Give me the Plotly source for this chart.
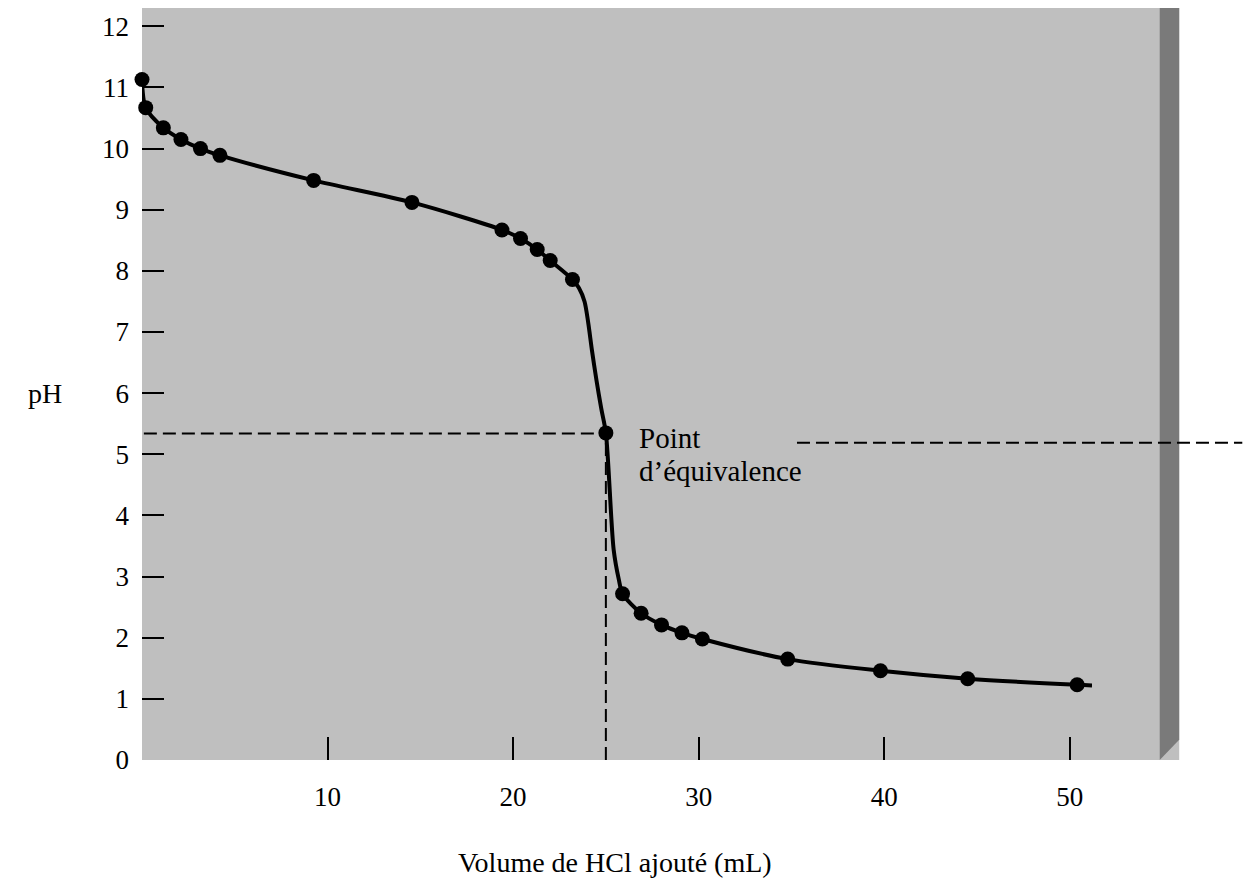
import plotly.graph_objects as go

# ---- data ----
volume = [0.0, 0.2, 1.15, 2.1, 3.15, 4.2, 9.25, 14.55, 19.4, 20.4, 21.3, 22.0, 23.2,
          25.0, 25.9, 26.9, 28.0, 29.1, 30.2, 34.8, 39.8, 44.5, 50.4]
ph = [11.13, 10.67, 10.34, 10.15, 10.0, 9.89, 9.48, 9.12, 8.67, 8.53, 8.35, 8.17, 7.86,
      5.35, 2.72, 2.40, 2.21, 2.08, 1.98, 1.65, 1.46, 1.33, 1.23]

# smooth curve drawn through the points (extra vertices read along the steep part)
curve_x = [0.0, 0.2, 1.15, 2.1, 3.15, 4.2, 9.25, 14.55, 19.4, 20.4, 21.3, 22.0, 23.2,
           23.55, 23.85, 24.05, 24.25, 24.5, 24.75, 25.0, 25.42, 25.7, 25.9, 26.9, 28.0,
           29.1, 30.2, 34.8, 39.8, 44.5, 50.4, 51.2]
curve_ph = [11.13, 10.67, 10.34, 10.15, 10.0, 9.89, 9.48, 9.12, 8.67, 8.53, 8.35, 8.17, 7.86,
            7.72, 7.5, 7.15, 6.7, 6.2, 5.75, 5.35, 3.44, 2.95, 2.72, 2.40, 2.21,
            2.08, 1.98, 1.65, 1.46, 1.33, 1.23, 1.22]

x_ticks = [10, 20, 30, 40, 50]
y_ticks = list(range(0, 13))

equiv_volume = 25.0
equiv_ph_left = 5.34
equiv_ph_right = 5.19

x_range = [0, 59.5]
y_range = [0, 12.3]

FONT = "Liberation Serif, Times New Roman, serif"

W, H = 1253, 881
ML, MR, MT, MB = 142, 7, 8, 121
PW, PH = W - ML - MR, H - MT - MB

def paper(xp, yp):
    return (xp - ML) / PW, 1 - (yp - MT) / PH

fig = go.Figure()

fig.add_trace(go.Scatter(x=curve_x, y=curve_ph, mode="lines",
                         line=dict(color="black", width=4, shape="spline", smoothing=0.8),
                         hoverinfo="skip", cliponaxis=False, showlegend=False))
fig.add_trace(go.Scatter(x=volume, y=ph, mode="markers",
                         marker=dict(color="black", size=15),
                         cliponaxis=False, showlegend=False))

# grey panel
fig.add_shape(type="rect", xref="x", yref="y", x0=0, x1=55.9, y0=0, y1=12.3,
              fillcolor="#bfbfbf", line=dict(width=0), layer="below")
# dark right edge with bevel
fig.add_shape(type="path", xref="x", yref="y",
              path="M 54.85,12.3 L 55.9,12.3 L 55.9,0.33 L 54.85,0 Z",
              fillcolor="#7a7a7a", line=dict(width=0), layer="below")

dash = "13px,6px"
fig.add_shape(type="line", xref="x", yref="y", x0=0.1, x1=equiv_volume,
              y0=equiv_ph_left, y1=equiv_ph_left, line=dict(color="black", width=2, dash=dash))
fig.add_shape(type="line", xref="x", yref="y", x0=35.3, x1=59.3,
              y0=equiv_ph_right, y1=equiv_ph_right, line=dict(color="black", width=2, dash=dash))
fig.add_shape(type="line", xref="x", yref="y", x0=equiv_volume, x1=equiv_volume,
              y0=0, y1=equiv_ph_left, line=dict(color="black", width=2, dash=dash))

ax, ay = paper(637, 438)
fig.add_annotation(text="Point", xref="paper", yref="paper", x=ax, y=ay,
                   xanchor="left", yanchor="middle", showarrow=False,
                   font=dict(family=FONT, size=29, color="black"))
ax, ay = paper(637, 471)
fig.add_annotation(text="d’équivalence", xref="paper", yref="paper", x=ax, y=ay,
                   xanchor="left", yanchor="middle", showarrow=False,
                   font=dict(family=FONT, size=29, color="black"))
ax, ay = paper(45, 393)
fig.add_annotation(text="pH", xref="paper", yref="paper", x=ax, y=ay,
                   xanchor="center", yanchor="middle", showarrow=False,
                   font=dict(family=FONT, size=28, color="black"))
ax, ay = paper(615, 862)
fig.add_annotation(text="Volume de HCl ajouté (mL)", xref="paper", yref="paper", x=ax, y=ay,
                   xanchor="center", yanchor="middle", showarrow=False,
                   font=dict(family=FONT, size=28, color="black"))

fig.update_layout(
    width=W, height=H,
    margin=dict(l=ML, r=MR, t=MT, b=MB),
    paper_bgcolor="white", plot_bgcolor="rgba(0,0,0,0)",
    font=dict(family=FONT, size=27, color="black"),
    showlegend=False,
)
fig.update_xaxes(range=x_range, tickvals=x_ticks, ticktext=[str(v) for v in x_ticks],
                 ticks="inside", ticklen=23, tickwidth=2, tickcolor="black",
                 showgrid=False, zeroline=False, showline=False,
                 ticklabelstandoff=18, tickfont=dict(family=FONT, size=27))
fig.update_yaxes(range=y_range, tickvals=y_ticks, ticktext=[str(v) for v in y_ticks],
                 ticks="inside", ticklen=22, tickwidth=2, tickcolor="black",
                 showgrid=False, zeroline=False, showline=False,
                 ticklabelstandoff=12, tickfont=dict(family=FONT, size=27))

fig.write_html("out.html")
